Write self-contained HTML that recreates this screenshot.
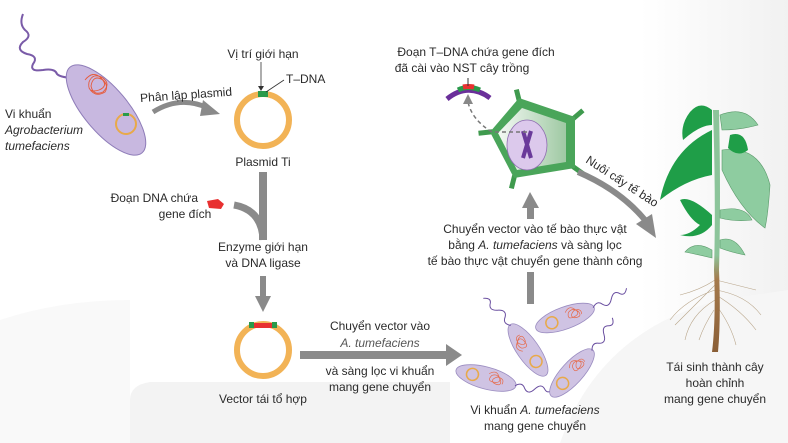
<!DOCTYPE html>
<html><head><meta charset="utf-8">
<style>
html,body{margin:0;padding:0;background:#fff;}
svg{display:block;font-family:"Liberation Sans","DejaVu Sans",sans-serif;}
text{font-size:12px;fill:#2a2a2a;}
</style></head><body>
<svg width="788" height="443" viewBox="0 0 788 443" xmlns="http://www.w3.org/2000/svg">
<defs>
<linearGradient id="bg" x1="0" x2="1" y1="0" y2="0"><stop offset="0" stop-color="#fff"/><stop offset="1" stop-color="#f1f1f1"/></linearGradient>
<linearGradient id="cell" x1="0" x2="1"><stop offset="0" stop-color="#f4f9f4"/><stop offset="1" stop-color="#9fc9a3"/></linearGradient>
<linearGradient id="stem" x1="0" x2="0" y1="0" y2="1"><stop offset="0" stop-color="#8cc49a"/><stop offset="0.6" stop-color="#8cc49a"/><stop offset="0.7" stop-color="#a57a4c"/><stop offset="1" stop-color="#8a5e36"/></linearGradient>
<g id="bact">
<ellipse cx="0" cy="0" rx="31" ry="11" fill="#cfc3e3" stroke="#9a8cc0" stroke-width="0.8"/>
<circle cx="-14" cy="0" r="6" fill="none" stroke="#e8a94a" stroke-width="1.5"/>
<path d="M2,-5 q6,-6 10,0 q5,6 -3,7 q-8,1 -4,-6 q6,-4 10,3 q2,6 -6,4 q-5,-3 2,-7 q8,0 6,6" fill="none" stroke="#e66a4a" stroke-width="0.7"/>
<path d="M30,0 q6,-6 10,0 q5,6 10,-2 q5,-8 10,-2 q4,4 8,-3" fill="none" stroke="#6a4fa0" stroke-width="1"/>
</g>
</defs>
<rect width="788" height="443" fill="#fff"/>
<rect x="640" y="0" width="148" height="443" fill="url(#bg)"/>
<path d="M130,443 L130,400 Q130,385 150,382 L450,382 L450,443 Z" fill="#f3f3f3"/>
<path d="M560,443 Q600,330 720,300 L788,290 L788,443 Z" fill="#f6f6f6"/>
<path d="M0,320 Q60,300 130,300 L130,443 L0,443 Z" fill="#f9f9f9"/>

<!-- Bacterium top-left -->
<path d="M23,14 q-4,10 2,16 q8,6 -2,12 q-8,8 4,12 q12,2 6,10 q-4,8 10,6 q12,-2 14,4 q4,4 20,4" fill="none" stroke="#7a5ba8" stroke-width="2"/>
<g transform="translate(106,110) rotate(50)">
<ellipse cx="0" cy="0" rx="56" ry="22" fill="#c8b8e0" stroke="#8e7cb8" stroke-width="1"/>
</g>
<path d="M85,80 q8,-10 16,-2 q8,8 -2,12 q-12,4 -10,-8 q4,-10 14,-4 q8,6 0,14 q-10,4 -12,-6 q2,-12 12,-6 q6,6 2,12 q-10,6 -16,-4" fill="none" stroke="#e65a3a" stroke-width="0.9"/>
<circle cx="126" cy="124" r="10" fill="none" stroke="#e8a94a" stroke-width="2"/>
<rect x="123" y="113" width="6" height="3" fill="#2a9a4a"/>
<text x="5" y="118">Vi khuẩn</text>
<text x="5" y="134" font-style="italic">Agrobacterium</text>
<text x="5" y="150" font-style="italic">tumefaciens</text>

<path d="M153,112 Q180,95 208,108" fill="none" stroke="#8a8a8a" stroke-width="5"/>
<polygon points="203,100 220,114 200,116" fill="#8a8a8a"/>
<text x="140" y="100" transform="rotate(-4 170 95)">Phân lập plasmid</text>

<circle cx="263" cy="120" r="26" fill="none" stroke="#f2b356" stroke-width="6"/>
<rect x="258" y="91" width="10" height="6" fill="#2a9a4a"/>
<text x="263" y="58" text-anchor="middle">Vị trí giới hạn</text>
<line x1="261" y1="62" x2="261" y2="88" stroke="#333" stroke-width="0.8"/>
<polygon points="258,86 264,86 261,91" fill="#333"/>
<line x1="266" y1="92" x2="284" y2="80" stroke="#333" stroke-width="0.8"/>
<text x="286" y="83">T–DNA</text>
<text x="263" y="166" text-anchor="middle">Plasmid Ti</text>

<rect x="259" y="172" width="8" height="68" fill="#8a8a8a"/>
<path d="M234,205 Q262,210 263,240" fill="none" stroke="#8a8a8a" stroke-width="7"/>
<polygon points="207,201 218,199 224,204 221,209 209,208" fill="#e83030"/>
<text x="198" y="202" text-anchor="end">Đoạn DNA chứa</text>
<text x="185" y="218" text-anchor="middle">gene đích</text>
<text x="263" y="251" text-anchor="middle">Enzyme giới hạn</text>
<text x="263" y="267" text-anchor="middle">và DNA ligase</text>
<rect x="260" y="276" width="6" height="22" fill="#8a8a8a"/>
<polygon points="255,296 271,296 263,312" fill="#8a8a8a"/>

<circle cx="263" cy="350" r="26" fill="none" stroke="#f2b356" stroke-width="6"/>
<path d="M253,323 L273,323 L275,328 L251,328 Z" fill="#e83030"/>
<rect x="249" y="322" width="5" height="6" fill="#2a9a4a"/><rect x="272" y="322" width="5" height="6" fill="#2a9a4a"/>
<text x="263" y="403" text-anchor="middle">Vector tái tổ hợp</text>

<rect x="300" y="351" width="148" height="8" fill="#8a8a8a"/>
<polygon points="446,344 462,355 446,366" fill="#8a8a8a"/>
<text x="380" y="330" text-anchor="middle">Chuyển vector vào</text>
<text x="380" y="347" text-anchor="middle" font-style="italic" style="fill:#555">A. tumefaciens</text>
<text x="380" y="375" text-anchor="middle">và sàng lọc vi khuẩn</text>
<text x="380" y="391" text-anchor="middle">mang gene chuyển</text>

<use href="#bact" transform="translate(528,350) rotate(235)"/>
<use href="#bact" transform="translate(565,318) rotate(-20)"/>
<use href="#bact" transform="translate(486,378) rotate(15)"/>
<use href="#bact" transform="translate(572,373) rotate(-48)"/>
<text x="535" y="414" text-anchor="middle">Vi khuẩn <tspan font-style="italic">A. tumefaciens</tspan></text>
<text x="535" y="430" text-anchor="middle">mang gene chuyển</text>

<rect x="527" y="272" width="7" height="32" fill="#8a8a8a"/>
<rect x="527" y="205" width="7" height="14" fill="#8a8a8a"/>
<polygon points="522,208 539,208 530,192" fill="#8a8a8a"/>
<text x="535" y="233" text-anchor="middle">Chuyển vector vào tế bào thực vật</text>
<text x="535" y="249" text-anchor="middle">bằng <tspan font-style="italic">A. tumefaciens</tspan> và sàng lọc</text>
<text x="535" y="265" text-anchor="middle">tế bào thực vật chuyển gene thành công</text>

<g stroke="#3f9a4e" stroke-width="5" stroke-linecap="square">
<line x1="519" y1="100" x2="517" y2="92"/>
<line x1="574" y1="118" x2="581" y2="112"/>
<line x1="575" y1="168" x2="582" y2="173"/>
<line x1="514" y1="178" x2="512" y2="186"/>
<line x1="490" y1="132" x2="481" y2="133"/>
</g>
<polygon points="490,132 519,98 575,117 575,168 514,178" fill="#4aa55a"/>
<polygon points="498,133 522,108 566,123 566,162 517,170" fill="url(#cell)"/>
<ellipse cx="527" cy="145" rx="20" ry="25" fill="#dcc9ec" stroke="#8e6cb0" stroke-width="0.8"/>
<path d="M523,131 L531,158 M531,131 L523,158" stroke="#6a3a9a" stroke-width="4"/>
<path d="M527,132 L492,132" stroke="#777" stroke-width="1.5" stroke-dasharray="4,3"/>
<path d="M492,132 Q472,120 468,102" fill="none" stroke="#777" stroke-width="1.5" stroke-dasharray="4,3"/>
<polygon points="463,104 473,104 468,94" fill="#888"/>
<path d="M447,99 Q468,82 490,98" fill="none" stroke="#6a2f9a" stroke-width="5"/>
<path d="M458,90 Q468,85 480,90" fill="none" stroke="#2a9a4a" stroke-width="5"/>
<path d="M463,87 Q468,86 474,87" fill="none" stroke="#e83030" stroke-width="5"/>
<line x1="468" y1="78" x2="468" y2="86" stroke="#333" stroke-width="1"/>
<text x="476" y="56" text-anchor="middle">Đoạn T–DNA chứa gene đích</text>
<text x="462" y="72" text-anchor="middle">đã cài vào NST cây trồng</text>

<path d="M578,172 Q620,190 645,220" fill="none" stroke="#8a8a8a" stroke-width="6"/>
<polygon points="636,224 656,238 652,214" fill="#8a8a8a"/>
<text x="585" y="162" transform="rotate(33 585 162)" font-size="12">Nuôi cấy tế bào</text>

<g stroke="#b8a58a" stroke-width="0.6" fill="none">
<path d="M715,285 q-20,20 -40,40 M715,290 q-30,10 -45,30 M715,300 q-25,15 -30,40 M716,295 q25,15 40,35 M716,290 q30,5 45,25 M716,305 q15,20 20,40 M714,310 q-10,15 -15,30 M715,280 q-15,10 -35,15 M716,280 q20,5 40,10"/>
</g>
<path d="M713,110 Q716,200 714,270 Q716,320 712,352 L718,352 Q721,320 719,270 Q721,200 719,110 Z" fill="url(#stem)"/>
<path d="M712,130 Q670,150 660,200 Q685,180 712,175 Z" fill="#1f9e48"/>
<path d="M712,110 Q700,100 690,112 Q680,125 683,140 Q700,125 712,125 Z" fill="#1f9e48"/>
<path d="M720,115 Q745,105 758,125 Q740,130 722,130 Z" fill="#8ecca0" stroke="#5a9a6a" stroke-width="0.6"/>
<path d="M722,150 Q760,145 770,185 Q768,215 765,228 Q740,210 722,170 Z" fill="#8ecca0" stroke="#5a9a6a" stroke-width="0.6"/>
<path d="M730,135 Q745,130 748,150 Q738,158 728,148 Z" fill="#1f9e48"/>
<path d="M712,215 Q690,195 680,200 Q690,220 700,225 Q690,235 680,235 Q700,240 712,225 Z" fill="#1f9e48"/>
<path d="M720,210 Q745,205 752,220 Q735,222 720,218 Z" fill="#8ecca0" stroke="#5a9a6a" stroke-width="0.6"/>
<path d="M712,250 Q695,240 685,252 Q700,255 712,258 Z" fill="#8ecca0" stroke="#5a9a6a" stroke-width="0.6"/>
<path d="M720,240 Q735,235 745,255 Q730,252 720,248 Z" fill="#8ecca0" stroke="#5a9a6a" stroke-width="0.6"/>
<text x="715" y="371" text-anchor="middle">Tái sinh thành cây</text>
<text x="715" y="387" text-anchor="middle">hoàn chỉnh</text>
<text x="715" y="403" text-anchor="middle">mang gene chuyển</text>
</svg>
</body></html>
